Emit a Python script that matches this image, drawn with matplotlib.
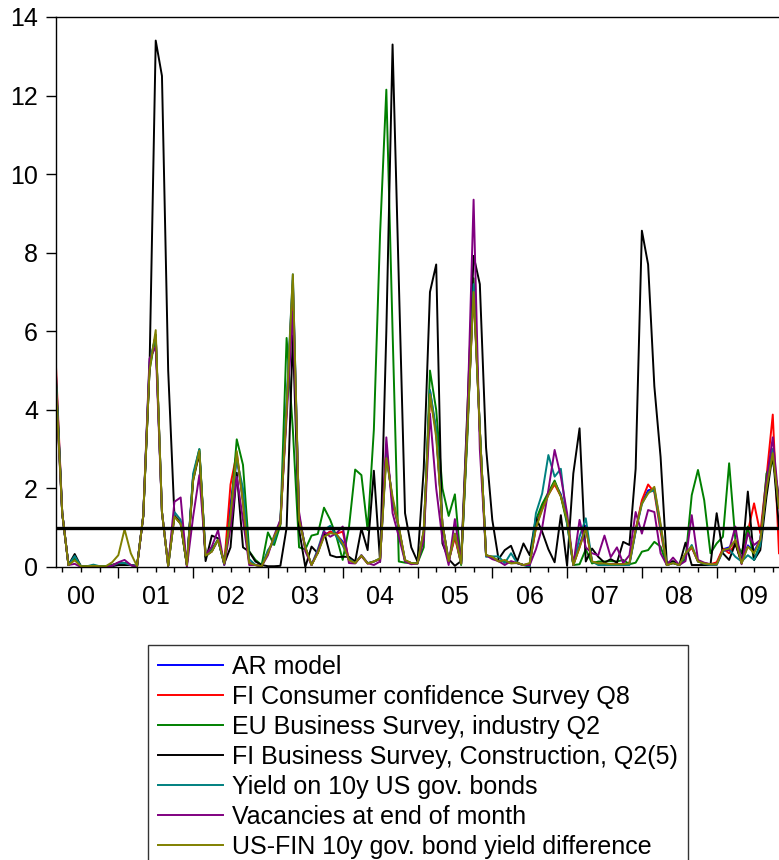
import numpy as np
import matplotlib
matplotlib.use("Agg")
import matplotlib.pyplot as plt

plt.rcParams['font.family'] = ['Liberation Sans', 'DejaVu Sans']

# monthly observations, 2000M03 .. 2009M11
start_year, start_month, n_obs = 2000, 3, 117
year_labels = ['00', '01', '02', '03', '04', '05', '06', '07', '08', '09']

# one row per year (first row starts in March, last row ends in November)
ar_model = [4.9, 1.37, 0.05, 0.2, 0.02, 0.02, 0.03, 0.02, 0.02, 0.05,
            0.1, 0.1, 0.05, 0.02, 1.3, 5.1, 5.9, 1.4, 0.03, 1.3, 1.15, 0.05,
            2.3, 2.95, 0.28, 0.4, 0.7, 0.08, 1.6, 2.8, 1.7, 0.12, 0.05, 0.02,
            0.38, 0.72, 1.1, 4.1, 7.3, 1.25, 0.5, 0.05, 0.38, 0.8, 0.9, 0.82,
            0.65, 0.18, 0.1, 0.28, 0.09, 0.14, 0.2, 2.9, 1.7, 1.0, 0.16, 0.1,
            0.09, 0.9, 4.5, 3.4, 1.1, 0.15, 0.8, 0.08, 3.5, 7.1, 3.5, 0.3,
            0.25, 0.15, 0.15, 0.1, 0.1, 0.05, 0.08, 1.05, 1.5, 1.85, 2.15, 1.85,
            1.2, 0.05, 0.55, 1.05, 0.14, 0.08, 0.08, 0.07, 0.07, 0.07, 0.09, 0.92,
            1.65, 1.95, 2.0, 1.05, 0.05, 0.1, 0.05, 0.33, 0.5, 0.14, 0.09, 0.07,
            0.07, 0.45, 0.5, 0.65, 0.1, 0.55, 0.4, 0.7, 2.1, 3.0, 1.5]

fi_consumer = [5.1, 1.37, 0.05, 0.2, 0.02, 0.02, 0.03, 0.02, 0.02, 0.05,
               0.1, 0.1, 0.05, 0.02, 1.3, 5.1, 5.9, 1.4, 0.03, 1.3, 1.15, 0.05,
               2.3, 2.9, 0.28, 0.4, 0.7, 0.08, 2.1, 2.9, 1.7, 0.12, 0.05, 0.02,
               0.38, 0.72, 1.1, 4.0, 7.2, 1.25, 0.5, 0.05, 0.38, 0.8, 0.9, 0.85,
               0.9, 0.18, 0.1, 0.28, 0.09, 0.14, 0.2, 3.0, 1.6, 1.0, 0.16, 0.1,
               0.09, 0.9, 4.3, 3.5, 1.1, 0.15, 0.75, 0.08, 3.5, 7.1, 3.5, 0.3,
               0.25, 0.15, 0.15, 0.1, 0.1, 0.05, 0.08, 1.0, 1.5, 1.85, 2.1, 1.8,
               1.2, 0.05, 0.5, 1.0, 0.14, 0.09, 0.09, 0.07, 0.07, 0.07, 0.09, 0.95,
               1.7, 2.1, 1.9, 0.9, 0.05, 0.1, 0.05, 0.3, 0.5, 0.14, 0.09, 0.07,
               0.12, 0.47, 0.35, 0.6, 0.11, 0.9, 1.62, 0.86, 2.3, 3.88, 0.35]

eu_industry = [4.7, 1.37, 0.05, 0.2, 0.02, 0.02, 0.03, 0.02, 0.02, 0.05,
               0.1, 0.1, 0.05, 0.02, 1.3, 5.0, 5.9, 1.4, 0.03, 1.3, 1.1, 0.05,
               2.3, 3.0, 0.25, 0.45, 0.7, 0.08, 1.3, 3.25, 2.6, 0.4, 0.18, 0.05,
               0.88, 0.56, 1.07, 5.83, 3.5, 0.5, 0.45, 0.8, 0.84, 1.51, 1.2, 0.77,
               0.18, 1.0, 2.48, 2.34, 0.94, 3.5, 8.5, 12.15, 6.0, 0.14, 0.11, 0.1,
               0.1, 0.5, 5.0, 4.0, 2.0, 1.3, 1.85, 0.05, 3.3, 7.35, 3.5, 0.3,
               0.25, 0.15, 0.15, 0.1, 0.1, 0.05, 0.05, 1.2, 1.6, 1.9, 2.2, 1.8,
               1.1, 0.05, 0.07, 0.45, 0.09, 0.14, 0.14, 0.15, 0.14, 0.18, 0.07, 0.11,
               0.39, 0.43, 0.64, 0.52, 0.05, 0.11, 0.05, 0.2, 1.83, 2.47, 1.7, 0.35,
               0.6, 0.77, 2.64, 0.69, 0.35, 1.03, 0.18, 0.6, 2.38, 2.7, 1.8]

fi_construction = [4.7, 1.37, 0.05, 0.33, 0.02, 0.02, 0.02, 0.0, 0.0, 0.02,
                   0.05, 0.05, 0.05, 0.02, 1.3, 5.0, 13.4, 12.5, 5.0, 1.3, 1.1, 0.05,
                   2.2, 2.9, 0.15, 0.8, 0.73, 0.09, 0.5, 2.4, 0.5, 0.39, 0.14, 0.05,
                   0.02, 0.02, 0.03, 1.0, 5.9, 0.95, 0.0, 0.52, 0.35, 0.9, 0.3, 0.25,
                   0.26, 0.26, 0.14, 0.98, 0.43, 2.45, 0.13, 6.0, 13.3, 7.3, 1.37, 0.5,
                   0.14, 2.5, 7.0, 7.7, 0.6, 0.2, 0.03, 0.15, 4.0, 7.92, 7.2, 3.04,
                   1.2, 0.2, 0.43, 0.54, 0.14, 0.6, 0.3, 1.26, 0.9, 0.45, 0.12, 1.32,
                   0.03, 2.38, 3.53, 0.14, 0.47, 0.26, 0.11, 0.2, 0.11, 0.64, 0.56, 2.5,
                   8.56, 7.7, 4.6, 2.8, 0.1, 0.15, 0.05, 0.62, 0.05, 0.05, 0.05, 0.05,
                   1.37, 0.35, 0.18, 0.6, 0.1, 1.92, 0.18, 0.43, 1.8, 2.9, 1.0]

us_yield = [4.85, 1.37, 0.05, 0.28, 0.02, 0.02, 0.06, 0.02, 0.02, 0.03,
            0.1, 0.1, 0.05, 0.02, 1.3, 5.2, 5.9, 1.4, 0.03, 1.4, 1.2, 0.05,
            2.38, 3.0, 0.3, 0.4, 0.7, 0.05, 1.3, 2.75, 2.0, 0.2, 0.05, 0.02,
            0.43, 0.65, 1.2, 4.2, 7.45, 1.3, 0.5, 0.05, 0.45, 0.94, 1.05, 0.77,
            0.55, 0.2, 0.1, 0.3, 0.1, 0.14, 0.22, 2.9, 1.7, 1.0, 0.15, 0.1,
            0.09, 0.9, 4.5, 3.5, 1.1, 0.15, 0.85, 0.08, 3.6, 7.2, 3.5, 0.26,
            0.27, 0.27, 0.1, 0.35, 0.1, 0.05, 0.0, 1.37, 1.87, 2.85, 2.3, 2.5,
            1.1, 0.05, 0.77, 1.24, 0.14, 0.05, 0.05, 0.05, 0.05, 0.05, 0.05, 0.9,
            1.6, 1.9, 1.95, 1.0, 0.05, 0.1, 0.05, 0.3, 0.56, 0.14, 0.08, 0.05,
            0.05, 0.4, 0.45, 0.26, 0.14, 0.3, 0.18, 0.55, 2.1, 3.0, 1.5]

vacancies = [4.5, 1.37, 0.05, 0.08, 0.0, 0.0, 0.02, 0.0, 0.0, 0.03,
             0.12, 0.18, 0.05, 0.0, 1.3, 5.3, 5.6, 1.4, 0.03, 1.66, 1.77, 0.0,
             1.28, 2.34, 0.3, 0.52, 0.94, 0.05, 1.0, 2.3, 1.2, 0.05, 0.05, 0.02,
             0.3, 0.8, 1.2, 3.8, 6.5, 1.4, 0.4, 0.05, 0.4, 0.9, 0.77, 0.86,
             1.03, 0.1, 0.09, 0.3, 0.1, 0.05, 0.14, 3.3, 1.37, 0.77, 0.14, 0.07,
             0.09, 0.69, 3.9, 2.0, 0.7, 0.05, 1.22, 0.1, 3.8, 9.35, 3.0, 0.3,
             0.2, 0.15, 0.05, 0.15, 0.1, 0.05, 0.05, 0.45, 1.0, 1.96, 2.98, 2.3,
             1.37, 0.05, 1.2, 0.5, 0.35, 0.3, 0.8, 0.25, 0.5, 0.1, 0.3, 1.4,
             0.85, 1.45, 1.4, 0.35, 0.05, 0.24, 0.05, 0.15, 1.32, 0.18, 0.11, 0.07,
             0.07, 0.43, 0.43, 1.03, 0.07, 0.86, 0.56, 0.69, 2.2, 3.3, 1.6]

us_fin_spread = [4.6, 1.37, 0.05, 0.17, 0.02, 0.02, 0.03, 0.02, 0.02, 0.12,
                 0.3, 0.96, 0.35, 0.02, 1.3, 5.0, 6.03, 1.4, 0.03, 1.28, 1.1, 0.05,
                 2.2, 2.96, 0.29, 0.39, 0.69, 0.09, 1.3, 2.95, 1.6, 0.1, 0.05, 0.02,
                 0.35, 0.77, 1.1, 4.0, 7.45, 1.2, 0.5, 0.05, 0.35, 0.77, 0.86, 0.84,
                 0.6, 0.18, 0.1, 0.29, 0.09, 0.14, 0.22, 2.77, 1.79, 1.03, 0.18, 0.1,
                 0.09, 0.94, 4.4, 3.3, 1.1, 0.15, 0.85, 0.08, 3.5, 7.0, 3.5, 0.3,
                 0.26, 0.14, 0.18, 0.09, 0.11, 0.05, 0.1, 1.0, 1.45, 1.83, 2.15, 1.8,
                 1.2, 0.05, 0.5, 1.0, 0.14, 0.09, 0.09, 0.07, 0.07, 0.07, 0.09, 0.94,
                 1.62, 1.87, 2.04, 1.1, 0.05, 0.1, 0.05, 0.35, 0.52, 0.14, 0.09, 0.07,
                 0.07, 0.43, 0.47, 0.69, 0.09, 0.52, 0.35, 0.69, 2.0, 2.9, 1.5]

series = [
    ("AR model", ar_model, "#0000ff"),
    ("FI Consumer confidence Survey Q8", fi_consumer, "#ff0000"),
    ("EU Business Survey, industry Q2", eu_industry, "#008000"),
    ("FI Business Survey, Construction, Q2(5)", fi_construction, "#000000"),
    ("Yield on 10y US gov. bonds", us_yield, "#008080"),
    ("Vacancies at end of month", vacancies, "#800080"),
    ("US-FIN 10y gov. bond yield difference", us_fin_spread, "#808000"),
]
threshold = 1.0

# fractional year for every month
t = start_year + (np.arange(n_obs) + start_month - 1) / 12.0

W, H = 779, 860
fig = plt.figure(figsize=(W / 100, H / 100), dpi=100)
ax = fig.add_axes([56 / W, 1 - 567 / H, 1 - 56 / W, 550 / H])

lines = []
for name, vals, col in series:
    ln, = ax.plot(t, vals, color=col, lw=1.4, label=name)
    lines.append(ln)
ax.axhline(threshold, color='black', lw=2.4, zorder=5)

ax.set_xlim(t[0], t[-1])
ax.set_ylim(0, 14)
ax.set_yticks(range(0, 15, 2))
ax.tick_params(axis='y', labelsize=18, length=7, width=1, pad=6, direction='out')

years = np.arange(start_year + 1, start_year + 10)
ax.set_xticks(years, [''] * len(years))
quarters = [y + q / 4 for y in range(start_year, start_year + 10) for q in (1, 2, 3)]
ax.set_xticks(quarters, minor=True)
ax.tick_params(axis='x', which='major', length=8, width=1, direction='out')
ax.tick_params(axis='x', which='minor', length=3.5, width=1, direction='out')

sec = ax.secondary_xaxis('bottom')
sec.set_xticks(np.arange(start_year, start_year + 10) + 0.5, year_labels)
sec.tick_params(length=0, pad=13, labelsize=18)
sec.spines['bottom'].set_visible(False)

ax.spines['right'].set_visible(False)
for s in ('left', 'top', 'bottom'):
    ax.spines[s].set_linewidth(1.0)

leg = fig.legend(handles=lines, loc='upper left',
                 bbox_to_anchor=(148 / W, 1 - 645 / H),
                 fontsize=18, frameon=True, fancybox=False, edgecolor='black',
                 handlelength=2.6, handletextpad=0.36, labelspacing=0.24,
                 borderpad=0.4, borderaxespad=0)
leg.get_frame().set_linewidth(1.0)

fig.savefig('out.png', dpi=100)
